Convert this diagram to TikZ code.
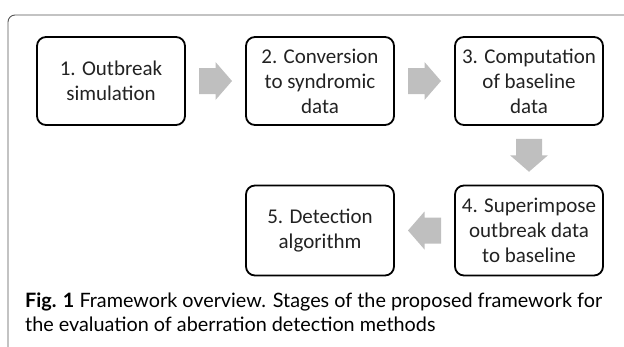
\documentclass[tikz,border=0pt]{standalone}
\usepackage{fontspec}
\setmainfont{Carlito}
\newfontfamily\capfont{Lato}
\usetikzlibrary{calc}
\definecolor{arrowgray}{HTML}{BFBFBF}
\definecolor{framegray}{HTML}{555555}
\definecolor{boxtext}{HTML}{222222}
\begin{document}
\begin{tikzpicture}[x=1pt,y=1pt,
  stage/.style={draw=black, line width=1.8pt, rounded corners=9pt,
    minimum width=148pt, align=center, inner sep=0pt,
    font=\fontsize{21}{25}\selectfont, text=boxtext},
  toprow/.style={stage, minimum height=88pt},
  botrow/.style={stage, minimum height=90pt},
  captext/.style={anchor=base west, inner sep=0pt, font=\capfont\fontsize{19.8}{23}\selectfont, text=black},
  blockarrow/.pic={\fill[arrowgray] (-16.5,-13) -- (0,-13) -- (0,-19) -- (16.5,0) -- (0,19) -- (0,13) -- (-16.5,13) -- cycle;}
]
\useasboundingbox (0,0) rectangle (624,-346);
\draw[framegray, line width=0.9pt, rounded corners=7pt] (8,-352) -- (8,-15) -- (632,-15);

\node[toprow] (b1) at (111,-81) {1. Outbreak\\simulation};
\node[toprow] (b2) at (320,-81) {2. Conversion\\to syndromic\\data};
\node[toprow] (b3) at (529,-81) {3. Computation\\of baseline\\data};
\node[botrow] (b4) at (529,-230.5) {4. Superimpose\\outbreak data\\to baseline};
\node[botrow] (b5) at (320,-230.5) {5. Detection\\algorithm};

\pic at ($(b1.east)!0.5!(b2.west)$) {blockarrow};
\pic at ($(b2.east)!0.5!(b3.west)$) {blockarrow};
\pic[rotate=-90] at ($(b3.south)!0.5!(b4.north)$) {blockarrow};
\pic[rotate=180] at ($(b4.west)!0.5!(b5.east)$) {blockarrow};

\node[captext] (cap1) at (25,-307.5) {\textbf{Fig. 1} Framework overview. Stages of the proposed framework for};
\node[captext] (cap2) at (25,-331.5) {the evaluation of aberration detection methods};
\end{tikzpicture}
\end{document}
